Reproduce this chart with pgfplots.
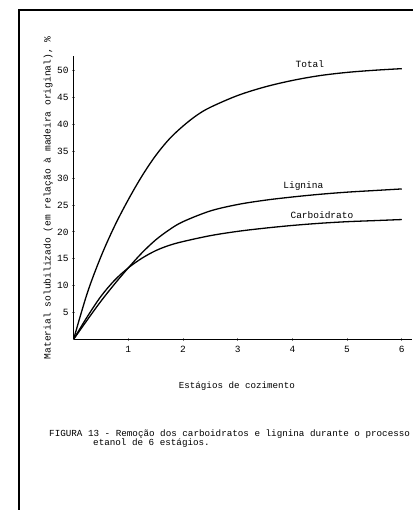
\documentclass[border=0pt]{standalone}
\usepackage{fontspec}
\setmainfont{Liberation Mono}
\usepackage{pgfplots}
\pgfplotsset{compat=1.18}

\begin{document}
\begin{tikzpicture}[x=1pt,y=1pt]
\useasboundingbox (0,0) rectangle (413,510);
% page frame
\draw[line width=1.6pt] (19,0) -- (19,500) -- (413,500);

\begin{axis}[
  at={(73.6pt,170.7pt)}, anchor=south west,
  scale only axis, width=338pt, height=283pt,
  xmin=0, xmax=6.18, ymin=0, ymax=52.7,
  axis x line=bottom, axis y line=left,
  axis line style={-, line width=1pt},
  xtick={1,2,3,4,5,6}, ytick={5,10,...,50},
  major tick length=3pt, tick align=center,
  tick style={line width=0.8pt},
  /pgf/number format/assume math mode=true,
  tick label style={font=\fontsize{9.5}{10}\selectfont},
  xticklabel style={yshift=-2pt},
  xlabel={Estágios de cozimento},
  xlabel style={at={(axis description cs:0.483,-0.167)}, anchor=center, font=\fontsize{9.2}{10}\selectfont},
  ylabel={Material solubilizado (em relação à madeira original), \%},
  ylabel style={at={(axis description cs:-0.075,0.5)}, anchor=center, font=\fontsize{9.6}{10}\selectfont},
  no markers,
  every axis plot post/.append style={black, line width=1.3pt, smooth, tension=0.55},
  clip=false,
]
% Total
\addplot coordinates {
  (0,0) (0.25,8.6) (0.5,15.4) (0.75,21.1) (1,26.0) (1.25,30.4) (1.5,34.2)
  (1.75,37.3) (2,39.7) (2.25,41.7) (2.5,43.2) (3,45.4) (3.5,47.0) (4,48.2)
  (4.5,49.1) (5,49.7) (5.5,50.1) (6,50.4)
};
% Lignina
\addplot coordinates {
  (0,0) (0.25,3.6) (0.5,7.1) (0.75,10.3) (1,13.3) (1.25,16.1) (1.5,18.5)
  (1.75,20.4) (2,21.9) (2.5,23.9) (3,25.1) (3.5,25.9) (4,26.5) (4.5,27.0)
  (5,27.4) (5.5,27.7) (6,28.0)
};
% Carboidrato
\addplot coordinates {
  (0,0) (0.25,4.2) (0.5,8.0) (0.75,11.0) (1,13.3) (1.25,15.1) (1.5,16.5)
  (1.75,17.5) (2,18.2) (2.5,19.3) (3,20.1) (3.5,20.7) (4,21.2) (4.5,21.6)
  (5,21.9) (5.5,22.1) (6,22.3)
};
\node[font=\fontsize{9.5}{10}\selectfont] at (axis cs:4.32,51.3) {Total};
\node[font=\fontsize{9.5}{10}\selectfont] at (axis cs:4.2,28.6) {Lignina};
\node[font=\fontsize{9.5}{10}\selectfont] at (axis cs:4.54,23.1) {Carboidrato};
\end{axis}

% caption
\node[anchor=west, font=\fontsize{9.25}{10}\selectfont, inner sep=0pt] at (49,76) {FIGURA 13 - Remoção dos carboidratos e lignina durante o processo};
\node[anchor=west, font=\fontsize{9.25}{10}\selectfont, inner sep=0pt] at (93,67) {etanol de 6 estágios.};
\end{tikzpicture}
\end{document}
